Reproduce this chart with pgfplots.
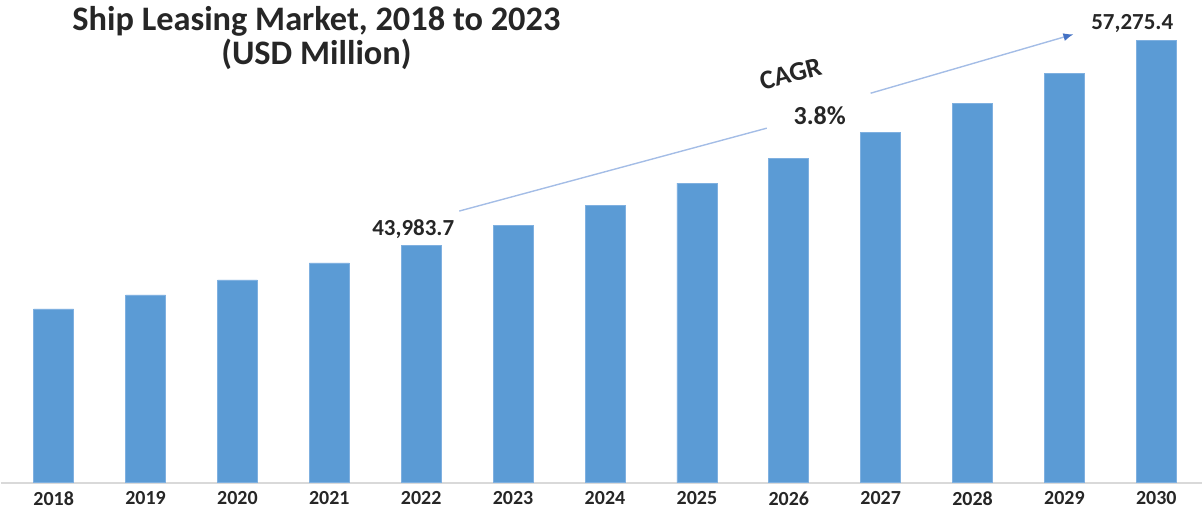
\documentclass[border=0pt]{standalone}
\usepackage{fontspec}
\setmainfont{Carlito}
\usepackage{pgfplots}
\pgfplotsset{compat=1.18}
\usetikzlibrary{arrows.meta}
\definecolor{barblue}{HTML}{5B9BD5}
\definecolor{baredge}{HTML}{7FB0E0}
\definecolor{linblue}{HTML}{A4BDE6}
\definecolor{headblue}{HTML}{4472C4}
\definecolor{txt}{HTML}{262626}
\begin{document}
\begin{tikzpicture}
\begin{axis}[
  scale only axis, width=601.5pt, height=240pt,
  xmin=-0.576, xmax=12.5, ymin=28552.5, ymax=59674,
  axis x line*=bottom, axis y line=none,
  x axis line style={draw=black!15, line width=0.8pt, -},
  ybar, bar width=20pt,
  xtick=data,
  xticklabels={2018,2019,2020,2021,2022,2023,2024,2025,2026,2027,2028,2029,2030},
  major tick length=0pt,
  xticklabel style={font=\bfseries\fontsize{10}{12}\selectfont, text=txt, yshift=-1pt},
  ytick=\empty,
  clip mode=individual,
]
\addplot[fill=barblue, draw=baredge, line width=0.3pt] coordinates {
 (0,39834) (1,40742) (2,41714) (3,42817) (4,43983.7) (5,45280) (6,46577)
 (7,48004) (8,49625) (9,51310) (10,53191) (11,55136) (12,57275.4)};

% CAGR arrow
\draw[linblue, line width=0.7pt] (axis cs:4.413,46188) -- (axis cs:7.761,51570);
\draw[linblue, line width=0.7pt, -{Latex[length=5pt,width=4pt,color=headblue]}] (axis cs:8.891,53839) -- (axis cs:11.098,57664);

\node[font=\bfseries\fontsize{11.5}{13}\selectfont, text=txt] at (axis cs:3.913,45021) {43,983.7};
\node[font=\bfseries\fontsize{11.5}{13}\selectfont, text=txt] at (axis cs:11.739,58377) {57,275.4};
\node[font=\bfseries\fontsize{13.5}{15}\selectfont, text=txt, rotate=15, inner sep=0pt] at (axis cs:8.02,55090) {CAGR};
\node[font=\bfseries\fontsize{13}{15}\selectfont, text=txt, inner sep=0pt] at (axis cs:8.337,52366) {3.8\%};

\node[font=\bfseries\fontsize{17.2}{17}\selectfont, text=txt, align=center] at (axis cs:2.859,57405) {Ship Leasing Market, 2018 to 2023\\(USD Million)};

\path (rel axis cs:0,0) -- ++(0pt,-16pt);
\end{axis}
\end{tikzpicture}
\end{document}
